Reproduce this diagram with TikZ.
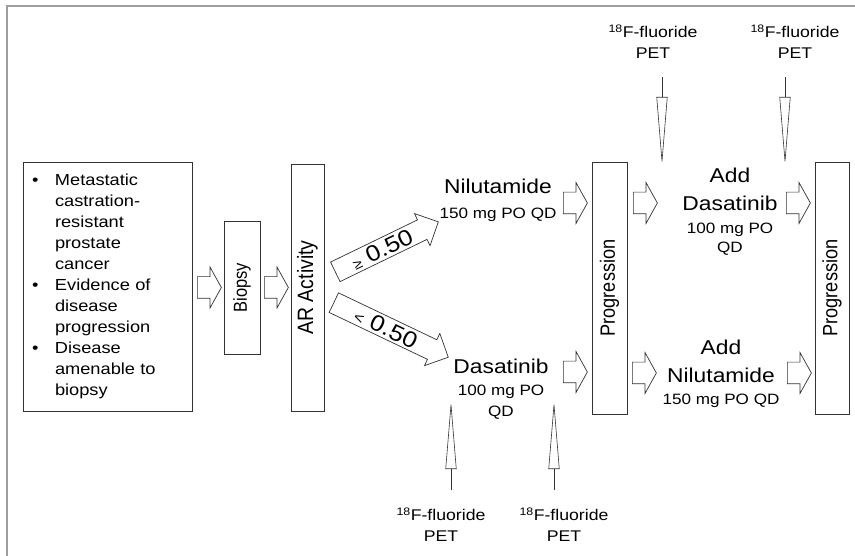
\documentclass[tikz,border=0pt]{standalone}
\usepackage{fontspec}
\setmainfont{Liberation Sans}
\newfontfamily\widesans{Liberation Sans}[FakeStretch=1.14]
\newfontfamily\narrowsans{Liberation Sans}[FakeStretch=0.877]
\usetikzlibrary{shapes.arrows,arrows.meta}

\newcommand{\drugname}[1]{{\fontsize{20}{20}\selectfont #1}}
\newcommand{\bul}{\makebox[23pt][l]{\textbullet}}
\newcommand{\ind}{\hspace*{23pt}}

\tikzset{
  frame/.style={draw=black!38, line width=1.4pt},
  stage/.style={draw=black!80, line width=0.8pt, fill=white, rotate=90, inner sep=0pt},
  flow/.style={single arrow, draw=black!80, line width=0.7pt, fill=white,
    minimum height=24pt, minimum width=40pt, single arrow head extend=9.5pt,
    single arrow tip angle=122, inner sep=0pt, text height=21pt, anchor=tail},
  branch/.style={single arrow, draw=black!80, line width=0.7pt, fill=white,
    single arrow head extend=7pt, single arrow tip angle=90, inner xsep=2pt,
    inner ysep=2.4pt, text height=16.2pt, text depth=0pt, anchor=tail,
    font=\widesans\fontsize{22.5}{22.5}\selectfont},
  drug/.style={align=center, inner sep=0pt, anchor=north,
    font=\widesans\fontsize{15}{21}\selectfont},
  petlabel/.style={align=center, inner sep=0pt, anchor=south,
    font=\widesans\fontsize{15.5}{21}\selectfont},
  petarrow/.style={draw=black!80, line width=0.6pt,
    -{Triangle[open, length=68pt, width=11pt]}}
}

\begin{document}
\begin{tikzpicture}[x=1pt, y=-1pt]
  \useasboundingbox (0,0) rectangle (855,556);
  \draw[frame] (855,6) -- (7,6) -- (7,556);

  % eligibility and biomarker steps
  \node[draw=black!80, line width=0.8pt, minimum width=169pt, minimum height=249pt,
    text width=151pt, inner xsep=9pt, inner ysep=0pt, align=left,
    font=\widesans\fontsize{16}{21}\selectfont] (crit) at (107.5,286.5)
    {\bul Metastatic\\ \ind castration-\\ \ind resistant\\ \ind prostate\\ \ind cancer\\
     \bul Evidence of\\ \ind disease\\ \ind progression\\
     \bul Disease\\ \ind amenable to\\ \ind biopsy};
  \node[stage, minimum width=133pt, minimum height=36pt,
    font=\narrowsans\fontsize{18.8}{18.8}\selectfont] (biopsy) at (242,287.5) {Biopsy};
  \node[stage, minimum width=247pt, minimum height=33pt,
    font=\narrowsans\fontsize{22.2}{22.2}\selectfont] (ar) at (307.5,287.5) {AR Activity};
  \node[stage, minimum width=252pt, minimum height=35pt,
    font=\narrowsans\fontsize{20.7}{20.7}\selectfont] (prog1) at (609.5,288) {Progression};
  \node[stage, minimum width=252pt, minimum height=34pt,
    font=\narrowsans\fontsize{20.7}{20.7}\selectfont] (prog2) at (832,288) {Progression};

  \node[flow] (f1) at (197,287.5) {};
  \node[flow] (f2) at (264,287.5) {};

  % split on AR activity
  \node[branch, rotate=25.9, minimum height=114.5pt] (hi) at (335,272)
    {{\fontsize{14}{14}\selectfont ≥} 0.50};
  \node[branch, rotate=-25.5, minimum height=126.8pt] (lo) at (333.5,302.5)
    {{\fontsize{15}{15}\selectfont <} 0.50};

  % treatments
  \node[drug] (nilu) at (498,178.7) {\drugname{Nilutamide}\\[4pt]150 mg PO QD};
  \node[drug] (dasa) at (501,358.7) {\drugname{Dasatinib}\\[1pt]100 mg PO\\QD};
  \node[drug] (adddasa) at (730,167.7)
    {\drugname{Add}\\[7pt]\drugname{Dasatinib}\\[2pt]100 mg PO\\[-2pt]QD};
  \node[drug] (addnilu) at (721,339.7)
    {\drugname{Add}\\[7pt]\drugname{Nilutamide}\\[1pt]150 mg PO QD};

  \node[flow] (f3) at (563,203) {};
  \node[flow] (f4) at (633,203) {};
  \node[flow] (f5) at (786,203) {};
  \node[flow] (f6) at (563,372) {};
  \node[flow] (f7) at (632,373) {};
  \node[flow] (f8) at (787,373) {};

  % imaging time points
  \node[petlabel] (petA) at (653,59) {\textsuperscript{18}F-fluoride\\PET};
  \node[petlabel] (petB) at (795,59) {\textsuperscript{18}F-fluoride\\PET};
  \node[petlabel] (petC) at (441,541.7) {\textsuperscript{18}F-fluoride\\PET};
  \node[petlabel] (petD) at (564,541.7) {\textsuperscript{18}F-fluoride\\PET};
  \coordinate (petA-in) at (662,77);
  \coordinate (petA-out) at (662,165);
  \coordinate (petB-in) at (785,77);
  \coordinate (petB-out) at (785,165);
  \coordinate (petC-in) at (451,490);
  \coordinate (petC-out) at (451,401);
  \coordinate (petD-in) at (554,490);
  \coordinate (petD-out) at (554,401);
  \draw[petarrow] (petA-in) -- (petA-out);
  \draw[petarrow] (petB-in) -- (petB-out);
  \draw[petarrow] (petC-in) -- (petC-out);
  \draw[petarrow] (petD-in) -- (petD-out);
\end{tikzpicture}
\end{document}
